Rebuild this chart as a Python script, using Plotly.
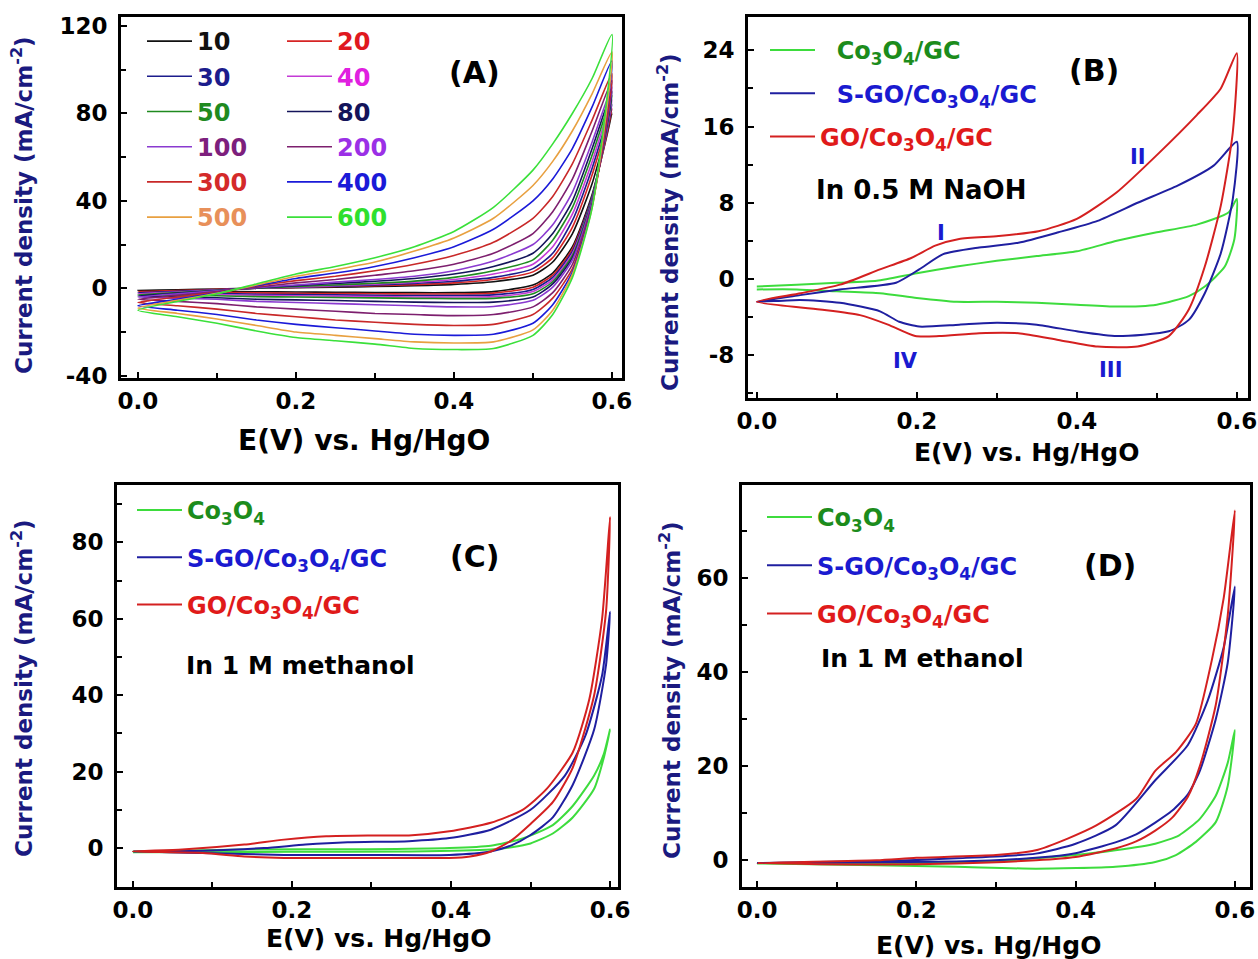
import plotly.graph_objects as go

W, H = 1258, 959
FONT = "DejaVu Sans"

# ---------------- Panel A: scan-rate study ----------------
a_E = [0, 0.05, 0.1, 0.15, 0.2, 0.25, 0.3, 0.35, 0.4, 0.45, 0.5, 0.525, 0.55, 0.575, 0.6]
a_rates = ["10", "20", "30", "40", "50", "80", "100", "200", "300", "400", "500", "600"]
a_fwd = {
    "10":  [-1, -0.7, -0.3, 0, 0.3, 0.5, 0.8, 1.2, 1.8, 3.0, 6, 12, 25, 48, 80],
    "20":  [-1.5, -1, -0.5, 0, 0.4, 0.8, 1.2, 1.7, 2.5, 4.0, 7.5, 14, 28, 52, 82],
    "30":  [-2, -1.4, -0.7, 0, 0.5, 1, 1.5, 2.2, 3.2, 5.0, 9, 16, 31, 55, 84],
    "40":  [-2.5, -1.7, -0.8, 0, 0.6, 1.2, 1.9, 2.7, 4, 6.5, 11, 19, 34, 58, 86],
    "50":  [-3, -2, -0.9, 0, 0.8, 1.5, 2.3, 3.3, 5, 8, 13, 22, 37, 61, 88],
    "80":  [-3.5, -2.2, -1, 0.2, 1.2, 2.2, 3.2, 4.5, 6.5, 10, 16, 25, 40, 64, 90],
    "100": [-4, -2.5, -1.2, 0.3, 1.5, 2.8, 4, 5.5, 8, 12.5, 20, 29, 44, 67, 92],
    "200": [-5, -3.2, -1.5, 0.5, 2.5, 4, 6, 8, 11, 16, 25, 35, 50, 72, 95],
    "300": [-6.5, -4, -1.8, 1, 3.5, 5.5, 8, 11, 15, 21, 32, 42, 57, 77, 98],
    "400": [-8, -5, -2, 1.2, 4.5, 7, 10, 14, 19, 27, 40, 50, 64, 83, 104],
    "500": [-9, -5.5, -2.3, 1.5, 5.5, 8.5, 12, 17, 23, 32, 47, 58, 72, 89, 108],
    "600": [-10, -6, -2.5, 2, 6.5, 10, 14, 19, 26, 37, 54, 66, 80, 96, 116],
}
a_rev = {
    "10":  [-1, -1.2, -1.4, -1.6, -1.7, -1.8, -1.9, -2, -2, -1.5, 1.5, 7, 19, 43, 80],
    "20":  [-1.5, -1.7, -1.9, -2.1, -2.3, -2.4, -2.5, -2.6, -2.6, -2.2, 0.5, 6, 18, 42, 82],
    "30":  [-2, -2.2, -2.4, -2.7, -2.9, -3, -3.2, -3.3, -3.3, -3.0, -0.5, 5, 17, 42, 84],
    "40":  [-2.5, -2.7, -2.9, -3.2, -3.4, -3.6, -3.8, -4, -4, -3.8, -1.5, 4, 16, 41, 86],
    "50":  [-3, -3.2, -3.4, -3.8, -4, -4.2, -4.4, -4.6, -4.7, -4.6, -2.5, 3, 15, 41, 88],
    "80":  [-3.5, -4, -4.3, -5, -5.3, -5.6, -6, -6.3, -6.5, -6.3, -4, 2, 14, 40, 90],
    "100": [-4, -4.5, -5, -6, -6.5, -7, -7.5, -8, -8.5, -8.3, -5.5, 0.5, 13, 40, 92],
    "200": [-5, -6, -7, -8.5, -9.5, -10.5, -11.5, -12, -12.5, -12, -8.5, -2, 11, 39, 95],
    "300": [-6.5, -8, -9.5, -11.5, -13, -14.5, -15.5, -16.5, -17, -16.5, -12, -4.5, 9, 38, 98],
    "400": [-8, -10, -12, -14.5, -16.5, -18, -19.5, -21, -21.5, -21, -16, -7.5, 7.5, 38, 104],
    "500": [-9, -11.5, -14, -17, -20, -21.5, -23, -24.5, -25, -24.5, -19, -10, 6.5, 37, 108],
    "600": [-10, -13, -16, -19.5, -22.5, -24, -25.5, -27.5, -28, -27.5, -21.5, -12, 5, 37, 116],
}
a_line_colors = {"10": "#111111", "20": "#d62424", "30": "#1c1c8c", "40": "#c43ad6",
                 "50": "#1f8a1f", "80": "#14145a", "100": "#8a3ad0", "200": "#7d1f6e",
                 "300": "#c82828", "400": "#1a1ad8", "500": "#e8a040", "600": "#3ae03a"}
a_text_colors = {"10": "#111111", "20": "#e0191f", "30": "#1c1c8c", "40": "#e020e0",
                 "50": "#1f8a1f", "80": "#14145a", "100": "#7d1f7d", "200": "#9b30e6",
                 "300": "#d42a2a", "400": "#1a1ad8", "500": "#e8905a", "600": "#2ee02e"}
a_col1 = ["10", "30", "50", "100", "300", "500"]
a_yticks = [-40, 0, 40, 80, 120]

# ---------------- Panel B: 0.5 M NaOH ----------------
b_green_x = [0, 0.05, 0.10, 0.15, 0.20, 0.25, 0.30, 0.35, 0.40, 0.45, 0.50, 0.55, 0.59, 0.60,
             0.597, 0.585, 0.56, 0.54, 0.50, 0.45, 0.40, 0.35, 0.30, 0.25, 0.20, 0.154, 0.10, 0.05, 0]
b_green_y = [-0.8, -0.6, -0.4, -0.2, 0.6, 1.3, 1.9, 2.4, 2.9, 4.0, 4.9, 5.7, 7.0, 8.4,
             4.2, 1.3, -0.8, -1.8, -2.7, -2.9, -2.7, -2.5, -2.4, -2.4, -2.0, -1.5, -1.3, -1.1, -1.1]
b_blue_x = [0, 0.054, 0.104, 0.174, 0.203, 0.233, 0.278, 0.327, 0.377, 0.426, 0.476, 0.526, 0.571, 0.60,
            0.595, 0.58, 0.56, 0.54, 0.515, 0.45, 0.40, 0.35, 0.30, 0.253, 0.203, 0.178, 0.154, 0.104, 0.054, 0]
b_blue_y = [-2.4, -1.7, -1.1, -0.4, 1.0, 2.6, 3.3, 3.8, 4.9, 6.1, 8.0, 9.8, 11.9, 14.4,
            8.4, 2.7, -1.5, -4.3, -5.5, -6.0, -5.5, -4.8, -4.6, -4.8, -5.0, -4.5, -3.4, -2.5, -2.2, -2.4]
b_red_x = [0, 0.055, 0.104, 0.154, 0.193, 0.223, 0.253, 0.302, 0.352, 0.40, 0.45, 0.50, 0.55, 0.58, 0.60,
           0.595, 0.58, 0.56, 0.54, 0.515, 0.476, 0.426, 0.377, 0.327, 0.278, 0.228, 0.198, 0.164, 0.129, 0.079, 0]
b_red_y = [-2.4, -1.5, -0.6, 1.0, 2.2, 3.5, 4.2, 4.5, 5.0, 6.3, 9.1, 13.0, 17.2, 20.0, 23.7,
           15.4, 7.7, 1.3, -3.2, -6.0, -7.1, -7.1, -6.4, -5.7, -5.7, -6.0, -6.0, -4.8, -3.8, -3.2, -2.4]
b_peaks = ["I", "II", "III", "IV"]
b_peak_x = [0.23, 0.476, 0.442, 0.186]
b_peak_y = [4.8, 12.8, -9.6, -8.6]
b_yticks = [-8, 0, 8, 16, 24]

# ---------------- Panel C: 1 M methanol ----------------
c_green_x = [0, 0.14, 0.295, 0.398, 0.45, 0.49, 0.528, 0.553, 0.58, 0.592, 0.60,
             0.592, 0.58, 0.553, 0.528, 0.50, 0.476, 0.45, 0.35, 0.2, 0]
c_green_y = [-0.9, -0.4, -0.3, 0.0, 0.6, 2.5, 6.0, 11.0, 19.0, 24.5, 31.0,
             23.5, 15.5, 8.0, 3.8, 1.2, 0.2, -0.4, -0.9, -1.0, -1.1]
c_blue_x = [0, 0.088, 0.165, 0.217, 0.27, 0.347, 0.398, 0.45, 0.50, 0.543, 0.569, 0.59, 0.60,
            0.595, 0.58, 0.553, 0.528, 0.50, 0.476, 0.45, 0.398, 0.295, 0.19, 0.088, 0]
c_blue_y = [-0.9, -0.7, 0, 0.9, 1.5, 1.8, 2.6, 4.8, 10.0, 18.9, 29.4, 45.2, 61.8,
            48.0, 31.0, 16.5, 8.0, 3.4, 0.7, -0.9, -1.8, -1.8, -1.8, -1.3, -0.9]
c_red_x = [0, 0.062, 0.14, 0.19, 0.243, 0.295, 0.347, 0.398, 0.45, 0.49, 0.52, 0.553, 0.574, 0.59, 0.60,
           0.595, 0.58, 0.553, 0.528, 0.50, 0.476, 0.45, 0.424, 0.398, 0.295, 0.19, 0.14, 0.088, 0]
c_red_y = [-0.9, -0.4, 0.9, 2.2, 3.1, 3.3, 3.3, 4.4, 6.6, 10.0, 15.4, 25.0, 39.0, 60.0, 86.6,
           62.0, 40.0, 21.0, 12.0, 6.3, 2.0, -0.9, -2.2, -2.6, -2.6, -2.6, -2.2, -1.3, -0.9]
c_yticks = [0, 20, 40, 60, 80]

# ---------------- Panel D: 1 M ethanol ----------------
d_green_x = [0, 0.2, 0.3, 0.35, 0.40, 0.45, 0.50, 0.53, 0.556, 0.576, 0.591, 0.60,
             0.591, 0.576, 0.551, 0.526, 0.50, 0.45, 0.35, 0.25, 0.15, 0]
d_green_y = [-0.6, -0.6, -0.2, 0.4, 1.1, 2.1, 3.5, 5.3, 8.8, 13.7, 20.7, 27.7,
             15.8, 8.1, 3.9, 1.1, -0.4, -1.4, -1.8, -1.4, -1.1, -0.7]
d_blue_x = [0, 0.15, 0.25, 0.35, 0.40, 0.45, 0.50, 0.541, 0.566, 0.586, 0.60,
            0.591, 0.576, 0.556, 0.541, 0.521, 0.50, 0.476, 0.45, 0.40, 0.35, 0.25, 0]
d_blue_y = [-0.6, -0.2, 0.4, 1.4, 3.5, 7.4, 17.0, 24.5, 34.0, 45.3, 58.2,
            42.0, 30.0, 19.0, 14.0, 10.5, 8.0, 5.5, 3.8, 1.5, 0.5, -0.3, -0.6]
d_red_x = [0, 0.15, 0.2, 0.3, 0.35, 0.39, 0.426, 0.476, 0.50, 0.526, 0.551, 0.571, 0.586, 0.60,
           0.591, 0.576, 0.556, 0.541, 0.521, 0.50, 0.476, 0.45, 0.40, 0.35, 0.25, 0.15, 0]
d_red_y = [-0.6, 0, 0.5, 1.1, 2.1, 4.6, 7.4, 13.0, 19.0, 23.0, 29.0, 42.5, 55.8, 74.4,
           52.0, 33.0, 20.0, 13.5, 9.0, 6.3, 4.0, 2.5, 0.7, 0, -0.7, -0.9, -0.6]
d_yticks = [0, 20, 40, 60, 80]

GREEN, BLUE, RED = "#3ddc3d", "#1f1fa0", "#d42020"
GREEN_T, BLUE_T, RED_T = "#1c8c1c", "#1a1ad0", "#e01a1a"
NAVY = "#1a1a80"

fig = go.Figure()

# Panel A traces
for r in a_rates:
    xs = a_E + a_E[::-1][1:]
    ys = a_fwd[r] + a_rev[r][::-1][1:]
    fig.add_trace(go.Scatter(
        x=xs, y=ys, mode="lines", xaxis="x", yaxis="y",
        line=dict(color=a_line_colors[r], width=1.6, shape="spline", smoothing=0.6),
        name=f"<span style='color:{a_text_colors[r]}'>{r}</span>",
        legend="legend" if r in a_col1 else "legend2",
        legendgroup="a" + r, showlegend=True))

def sub_name(base, color):
    return f"<span style='color:{color}'>{base}</span>"

co = "Co<sub>3</sub>O<sub>4</sub>"
sp = "&nbsp;&nbsp;"
panels = [
    ("x2", "y2", "legend3", [(b_green_x, b_green_y, GREEN, GREEN_T, sp + co + "/GC"),
                             (b_blue_x, b_blue_y, BLUE, BLUE_T, sp + "S-GO/" + co + "/GC"),
                             (b_red_x, b_red_y, RED, RED_T, "GO/" + co + "/GC")]),
    ("x3", "y3", "legend4", [(c_green_x, c_green_y, GREEN, GREEN_T, co),
                             (c_blue_x, c_blue_y, BLUE, BLUE_T, "S-GO/" + co + "/GC"),
                             (c_red_x, c_red_y, RED, RED_T, "GO/" + co + "/GC")]),
    ("x4", "y4", "legend5", [(d_green_x, d_green_y, GREEN, GREEN_T, co),
                             (d_blue_x, d_blue_y, BLUE, BLUE_T, "S-GO/" + co + "/GC"),
                             (d_red_x, d_red_y, RED, RED_T, "GO/" + co + "/GC")]),
]
for xa, ya, lg, series in panels:
    for xs, ys, col, tcol, nm in series:
        fig.add_trace(go.Scatter(x=xs, y=ys, mode="lines", xaxis=xa, yaxis=ya,
                                 line=dict(color=col, width=2, shape="spline", smoothing=0.6),
                                 name=sub_name(nm, tcol), legend=lg, legendgroup=xa + nm))

tickfont = dict(family=FONT, size=23, color="black", weight="bold")

def xax(domain, anchor, rng):
    return dict(domain=domain, anchor=anchor, range=rng, showline=True, linecolor="black",
                linewidth=3, mirror=True, ticks="inside", ticklen=6, tickwidth=2, tickcolor="black",
                tick0=0, dtick=0.2, tickformat=".1f", showgrid=False, zeroline=False,
                minor=dict(dtick=0.1, ticks="inside", ticklen=5, tickwidth=2, tickcolor="black"),
                tickfont=tickfont, ticklabelstandoff=0, automargin=False)

def yax(domain, anchor, rng, vals, mdtick):
    return dict(domain=domain, anchor=anchor, range=rng, showline=True, linecolor="black",
                linewidth=3, mirror=True, ticks="inside", ticklen=6, tickwidth=2, tickcolor="black",
                tickmode="array", tickvals=vals, ticktext=[str(v) for v in vals],
                showgrid=False, zeroline=False,
                minor=dict(tick0=0, dtick=mdtick, ticks="inside", ticklen=5, tickwidth=2,
                           tickcolor="black"),
                tickfont=tickfont, ticklabelstandoff=6, automargin=False)

def px_x(a, b):
    return [a / W, b / W]

def px_y(top, bottom):
    return [1 - bottom / H, 1 - top / H]

legfont = dict(family=FONT, size=24, color="black", weight="bold")

def leg(x, y, gap):
    return dict(x=x / W, y=1 - y / H, xanchor="left", yanchor="top", bgcolor="rgba(0,0,0,0)",
                borderwidth=0, font=legfont, itemwidth=45, tracegroupgap=gap,
                traceorder="grouped", itemclick=False, itemdoubleclick=False)

ann = []
def text(x, y, s, size, color="black", angle=0):
    ann.append(dict(x=x / W, y=1 - y / H, xref="paper", yref="paper", text=s, showarrow=False,
                    xanchor="center", yanchor="middle", textangle=angle,
                    font=dict(family=FONT, size=size, color=color, weight="bold")))

ytitle = "Current density (mA/cm<sup>-2</sup>)"
xtitle = "E(V) vs. Hg/HgO"
# axis titles
text(364, 440, xtitle, 28)
text(1026, 452, xtitle, 25)
text(378, 938, xtitle, 25)
text(988, 945, xtitle, 25)
text(22, 205, ytitle, 23, NAVY, -90)
text(668, 222, ytitle, 23, NAVY, -90)
text(22, 688, ytitle, 23, NAVY, -90)
text(670, 690, ytitle, 23, NAVY, -90)
# panel labels and conditions
text(474, 72, "(A)", 30)
text(1094, 70, "(B)", 30)
text(474, 556, "(C)", 30)
text(1110, 565, "(D)", 30)
text(921, 190, "In 0.5 M NaOH", 26)
text(300, 665, "In 1 M methanol", 25)
text(922, 658, "In 1 M ethanol", 25)

# peak labels in panel B (data coordinates)
for lab, px, py in zip(b_peaks, b_peak_x, b_peak_y):
    ann.append(dict(x=px, y=py, xref="x2", yref="y2", text=lab, showarrow=False,
                    font=dict(family=FONT, size=21, color=BLUE_T, weight="bold")))

fig.update_layout(
    width=W, height=H, margin=dict(l=0, r=0, t=0, b=0, autoexpand=False),
    paper_bgcolor="white", plot_bgcolor="white", showlegend=True,
    xaxis=xax(px_x(121, 622), "y", [-0.0215, 0.6127]),
    yaxis=yax(px_y(17, 378), "x", [-41, 124], a_yticks, 20),
    xaxis2=xax(px_x(748, 1248), "y2", [-0.011, 0.614]),
    yaxis2=yax(px_y(17, 398), "x2", [-12.5, 27.5], b_yticks, 4),
    xaxis3=xax(px_x(117, 618), "y3", [-0.02, 0.61]),
    yaxis3=yax(px_y(485, 887), "x3", [-10.2, 95], c_yticks, 10),
    xaxis4=xax(px_x(742, 1250), "y4", [-0.019, 0.619]),
    yaxis4=yax(px_y(485, 887), "x4", [-5.7, 79.8], d_yticks, 10),
    legend=leg(142, 19, 1),
    legend2=leg(282, 19, 1),
    legend3=leg(765, 28, 9),
    legend4=leg(132, 488, 13),
    legend5=leg(762, 495, 14),
    annotations=ann,
)

fig.write_html(
    "out.html",
    config={"displayModeBar": False},
    post_script="document.body.style.margin='0px';document.body.style.overflow='hidden';",
)
